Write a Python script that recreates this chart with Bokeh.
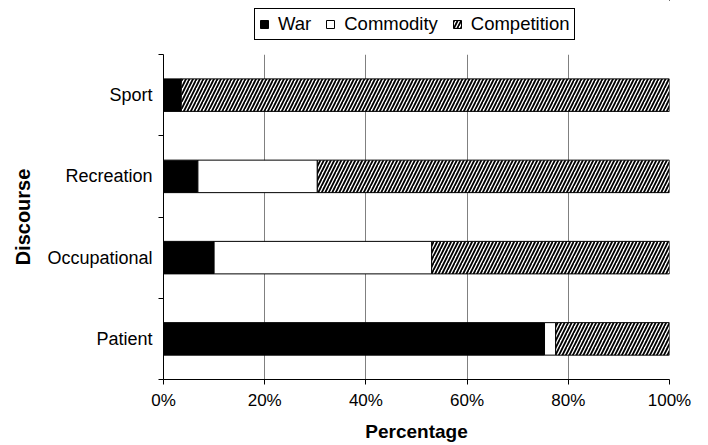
from bokeh.plotting import figure
from bokeh.layouts import column
from bokeh.models import (ColumnDataSource, FixedTicker, PrintfTickFormatter, Range1d,
                          Legend, LegendItem)
from bokeh.embed import file_html
from bokeh.resources import INLINE

# ---- data (percentages) ----
categories = ["Patient", "Occupational", "Recreation", "Sport"]
series_names = ["War", "Commodity", "Competition"]
war = [75.3, 10.0, 6.8, 3.5]
commodity = [2.2, 43.0, 23.6, 0.0]
competition = [22.5, 47.0, 69.6, 96.5]
x_ticks = [0, 20, 40, 60, 80, 100]

ypos = [i + 0.5 for i in range(len(categories))]
war_end = list(war)
com_end = [w + c for w, c in zip(war, commodity)]
comp_end = [a + b for a, b in zip(com_end, competition)]
zeros = [0] * len(categories)

src = ColumnDataSource(dict(y=ypos, z=zeros, w=war_end, c=com_end, k=comp_end))

FONT = "Liberation Sans"
STYLES = [
    dict(fill_color="black", line_color="black", line_width=1),
    dict(fill_color="white", line_color="black", line_width=1),
    dict(fill_color="white", line_color="black", line_width=1,
         hatch_pattern="/", hatch_color="black", hatch_scale=7, hatch_weight=1.8),
]

# ---------------- main chart ----------------
p = figure(width=700, height=398, output_backend="svg", toolbar_location=None,
           x_range=Range1d(0, 100), y_range=Range1d(0, len(categories)),
           min_border_left=163, min_border_right=31, min_border_top=8, min_border_bottom=62)
p.outline_line_color = None
p.background_fill_color = "white"
p.border_fill_color = "white"

p.hbar(y="y", left="z", right="w", height=0.4, source=src, **STYLES[0])
p.hbar(y="y", left="w", right="c", height=0.4, source=src, **STYLES[1])
p.hbar(y="y", left="c", right="k", height=0.4, source=src, **STYLES[2])

# x axis
p.xaxis.ticker = FixedTicker(ticks=x_ticks, minor_ticks=[])
p.xaxis.formatter = PrintfTickFormatter(format="%d%%")
p.xaxis.axis_label = "Percentage"
p.xaxis.axis_label_text_font = FONT
p.xaxis.axis_label_text_font_style = "bold"
p.xaxis.axis_label_text_font_size = "19px"
p.xaxis.axis_label_text_color = "black"
p.xaxis.axis_label_standoff = 8
p.xaxis.major_label_text_font = FONT
p.xaxis.major_label_text_font_size = "17px"
p.xaxis.major_label_text_color = "black"
p.xaxis.major_tick_in = 0
p.xaxis.major_tick_out = 5
p.xaxis.major_label_standoff = 6
p.xaxis.axis_line_color = "black"
p.xaxis.major_tick_line_color = "black"

# y axis: labels at centers, tick marks at boundaries
p.yaxis.ticker = FixedTicker(ticks=ypos, minor_ticks=list(range(len(categories) + 1)))
p.yaxis.major_label_overrides = {y: c for y, c in zip(ypos, categories)}
p.yaxis.major_tick_in = 0
p.yaxis.major_tick_out = 0
p.yaxis.minor_tick_in = 0
p.yaxis.minor_tick_out = 5
p.yaxis.minor_tick_line_color = "black"
p.yaxis.axis_line_color = "black"
p.yaxis.major_label_text_font = FONT
p.yaxis.major_label_text_font_size = "18px"
p.yaxis.major_label_text_color = "black"
p.yaxis.major_label_standoff = 6
p.yaxis.axis_label = "Discourse"
p.yaxis.axis_label_text_font = FONT
p.yaxis.axis_label_text_font_style = "bold"
p.yaxis.axis_label_text_font_size = "20px"
p.yaxis.axis_label_text_color = "black"
p.yaxis.axis_label_standoff = 10

p.xgrid.ticker = FixedTicker(ticks=x_ticks)
p.xgrid.grid_line_color = "#808080"
p.xgrid.grid_line_width = 1
p.ygrid.grid_line_color = None

# ---------------- legend strip (frame aligned with main chart) ----------------
lg = figure(width=700, height=46, output_backend="svg", toolbar_location=None,
            x_range=Range1d(0, 1), y_range=Range1d(0, 1),
            x_axis_type=None, y_axis_type=None,
            min_border_left=163, min_border_right=31, min_border_top=0, min_border_bottom=0)
lg.outline_line_color = None
lg.xgrid.visible = False
lg.ygrid.visible = False
# a single off-screen sample per series so the legend swatches get drawn
hidden = ColumnDataSource(dict(y=[5], l=[5], r=[6]))
items = []
for name, st in zip(series_names, STYLES):
    rr = lg.hbar(y="y", left="l", right="r", height=0.4, source=hidden, **st)
    items.append(LegendItem(label=name, renderers=[rr]))

legend = Legend(items=items, orientation="horizontal", location=(91, 6),
                border_line_color="black", border_line_width=1, border_line_alpha=1,
                label_text_font=FONT, label_text_font_size="18.5px",
                label_text_color="black",
                glyph_width=10, glyph_height=10, label_standoff=9, spacing=14,
                padding=4, margin=0, background_fill_alpha=1)
lg.add_layout(legend, "center")

layout = column(lg, p, spacing=0)
open("out.html", "w").write(file_html(layout, INLINE))
